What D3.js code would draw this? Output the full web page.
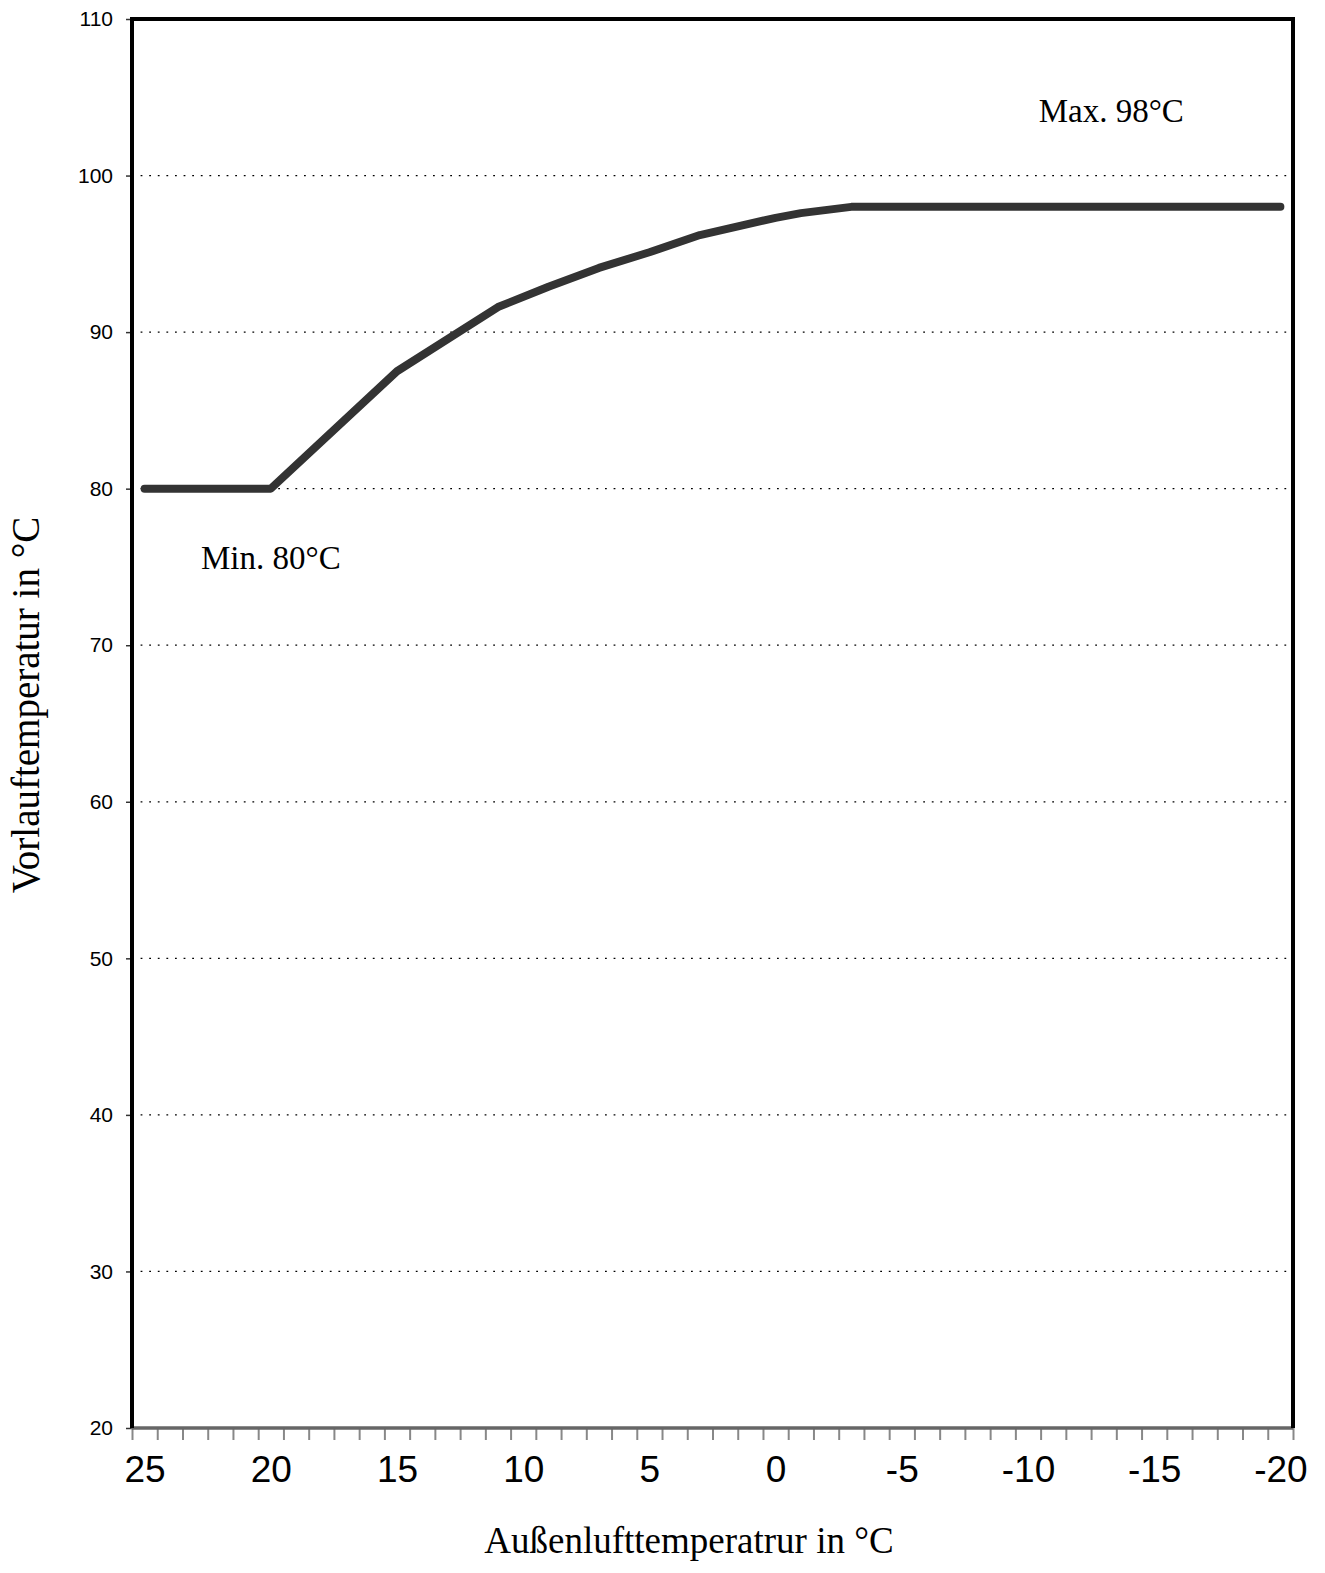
<!DOCTYPE html>
<html>
<head>
<meta charset="utf-8">
<script src="https://cdn.jsdelivr.net/npm/d3@7"></script>
<style>
  body { margin: 0; background: #fff; }
  svg { display: block; }
</style>
</head>
<body>
<svg id="chart"></svg>
<script>
// outside temperature (°C) and flow temperature (°C)
var outsideTemp = [25, 20, 15, 11, 9, 7, 5, 3, 0, -1, -3, -20]
var flowTemp    = [80, 80, 87.5, 91.6, 92.9, 94.1, 95.1, 96.2, 97.3, 97.6, 98, 98]

var xTickLabels = [25, 20, 15, 10, 5, 0, -5, -10, -15, -20]
var yTickLabels = [20, 30, 40, 50, 60, 70, 80, 90, 100, 110]

var notes = [
    {text: "Min. 80°C", x: 20.0, y: 74.9},
    {text: "Max. 98°C", x: -13.3, y: 103.4}
]

var width = 1325, height = 1573
var plot = {left: 132, right: 1293, top: 19, bottom: 1428}

var svg = d3.select("#chart")
    .attr("width", width)
    .attr("height", height)

// category style axis: each degree is one slot, ticks sit between slots
var x = d3.scaleLinear()
    .domain([25.5, -20.5])
    .range([plot.left, plot.right])

var y = d3.scaleLinear()
    .domain([20, 110])
    .range([plot.bottom, plot.top])

// dotted grid
svg.append("g")
    .selectAll("line")
    .data(yTickLabels.filter(d => d > 20 && d < 110))
    .enter().append("line")
    .attr("x1", plot.left)
    .attr("x2", plot.right)
    .attr("y1", d => y(d))
    .attr("y2", d => y(d))
    .attr("stroke", "#000")
    .attr("stroke-width", 1.3)
    .attr("stroke-dasharray", "1.8,6.8")

// y axis
var yAxis = svg.append("g")
    .attr("transform", `translate(${plot.left},0)`)
    .call(d3.axisLeft(y).tickValues(yTickLabels).tickSize(6).tickPadding(13))
yAxis.select(".domain").remove()
yAxis.selectAll(".tick line").attr("stroke", "#333").attr("stroke-width", 1.5)
yAxis.selectAll(".tick text")
    .style("font-family", "Liberation Sans, Arial, sans-serif")
    .style("font-size", "21px")
    .attr("fill", "#000")

// x axis minor ticks between categories
var slotEdges = d3.range(25.5, -21, -1)
var xTicks = svg.append("g")
    .attr("transform", `translate(0,${plot.bottom})`)
    .call(d3.axisBottom(x).tickValues(slotEdges).tickSize(12).tickFormat(""))
xTicks.select(".domain").remove()
xTicks.selectAll(".tick line").attr("stroke", "#888").attr("stroke-width", 2)

// x axis labels at category centres
var xLabels = svg.append("g")
    .attr("transform", `translate(0,${plot.bottom})`)
    .call(d3.axisBottom(x).tickValues(xTickLabels).tickSize(0).tickPadding(28)
        .tickFormat(d => String(d)))
xLabels.select(".domain").remove()
xLabels.selectAll(".tick text")
    .style("font-family", "Liberation Sans, Arial, sans-serif")
    .style("font-size", "37px")
    .attr("fill", "#000")

// frame
svg.append("line")
    .attr("x1", plot.left).attr("x2", plot.right)
    .attr("y1", plot.bottom).attr("y2", plot.bottom)
    .attr("stroke", "#666").attr("stroke-width", 3.5)
svg.append("path")
    .attr("d", `M${plot.left},${plot.bottom}V${plot.top}H${plot.right}V${plot.bottom}`)
    .attr("fill", "none")
    .attr("stroke", "#000")
    .attr("stroke-width", 4)

// heating curve
var line = d3.line()
    .x((d, i) => x(outsideTemp[i]))
    .y(d => y(d))

svg.append("path")
    .datum(flowTemp)
    .attr("d", line)
    .attr("fill", "none")
    .attr("stroke", "#333")
    .attr("stroke-width", 8)
    .attr("stroke-linecap", "round")
    .attr("stroke-linejoin", "round")

// min / max notes
svg.append("g")
    .selectAll("text")
    .data(notes)
    .enter().append("text")
    .attr("x", d => x(d.x))
    .attr("y", d => y(d.y))
    .attr("text-anchor", "middle")
    .style("font-family", "Liberation Serif, Times New Roman, serif")
    .style("font-size", "33px")
    .text(d => d.text)

// axis titles
svg.append("text")
    .attr("x", 689)
    .attr("y", 1553)
    .attr("text-anchor", "middle")
    .style("font-family", "Liberation Serif, Times New Roman, serif")
    .style("font-size", "37px")
    .text("Außenlufttemperatrur in °C")

svg.append("text")
    .attr("transform", "translate(39,705) rotate(-90)")
    .attr("text-anchor", "middle")
    .style("font-family", "Liberation Serif, Times New Roman, serif")
    .style("font-size", "39px")
    .text("Vorlauftemperatur in °C")
</script>
</body>
</html>
